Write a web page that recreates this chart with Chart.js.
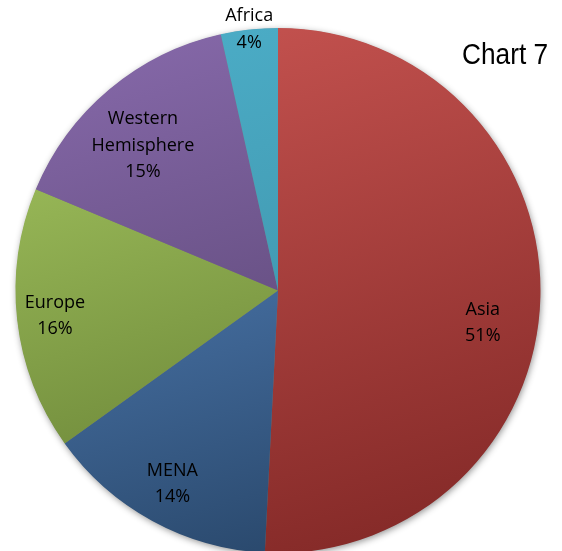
<!DOCTYPE html>
<html lang="en">
<head>
  <meta charset="UTF-8" />
  <title>Chart 7</title>
  <script src="https://cdn.jsdelivr.net/npm/chart.js"></script>
  <style>
    body { margin: 0; background: #fff; overflow: hidden; width: 562px; height: 551px; }
    #wrap { position: absolute; left: 0; top: 0; width: 562px; height: 581px; }
    #title { position: absolute; left: 462px; top: 39px; font: 30px "Liberation Sans", Arial, sans-serif; line-height: 30px; color: #000; transform: scaleX(0.875); transform-origin: left top; white-space: nowrap; }
  </style>
</head>
<body>
  <div id="wrap"><canvas id="pie"></canvas></div>
  <div id="title">Chart 7</div>

  <script>
    const categories = ['Asia', 'MENA', 'Europe', 'Western Hemisphere', 'Africa'];
    const shares = [50.8, 14.3, 16.2, 15.2, 3.5];
    const labelLines = [['Asia'], ['MENA'], ['Europe'], ['Western', 'Hemisphere'], ['Africa']];
    const lightColors = ['#C4524F', '#5A8BC8', '#A3C45F', '#8467A7', '#4BACC6'];
    const darkColors = ['#852A28', '#284669', '#5F782F', '#4F3D66', '#3A8AA0'];

    // shaded fill, light at the top of the pie and dark at the bottom
    function shade(ctx) {
      const chart = ctx.chart;
      const area = chart.chartArea;
      const i = ctx.dataIndex;
      if (!area) return lightColors[i];
      const cx = (area.left + area.right) / 2;
      const cy = (area.top + area.bottom) / 2;
      const r = Math.min(area.width, area.height) / 2;
      const g = chart.ctx.createLinearGradient(cx - r * 0.3, cy - r, cx + r * 0.3, cy + r);
      g.addColorStop(0, lightColors[i]);
      g.addColorStop(1, darkColors[i]);
      return g;
    }

    // soft drop shadow behind the whole pie
    const pieShadow = {
      id: 'pieShadow',
      beforeDatasetsDraw(chart) {
        const arc = chart.getDatasetMeta(0).data[0];
        if (!arc) return;
        const c = chart.ctx;
        c.save();
        c.shadowColor = 'rgba(0,0,0,0.45)';
        c.shadowBlur = 7;
        c.shadowOffsetX = 1;
        c.shadowOffsetY = 2;
        c.fillStyle = '#777';
        c.beginPath();
        c.arc(arc.x, arc.y, arc.outerRadius - 0.5, 0, Math.PI * 2);
        c.fill();
        c.restore();
      }
    };

    // data labels: name lines + rounded percentage
    const sliceLabels = {
      id: 'sliceLabels',
      afterDatasetsDraw(chart, args, opts) {
        const c = chart.ctx;
        const meta = chart.getDatasetMeta(0);
        c.save();
        c.font = opts.font;
        c.fillStyle = '#000';
        c.textAlign = 'center';
        c.textBaseline = 'middle';
        meta.data.forEach((arc, i) => {
          const mid = (arc.startAngle + arc.endAngle) / 2 + opts.turn[i] * Math.PI / 180;
          const rr = arc.outerRadius * opts.radial[i];
          const x = arc.x + Math.cos(mid) * rr;
          const y = arc.y + Math.sin(mid) * rr;
          const lines = labelLines[i].concat([Math.round(shares[i]) + '%']);
          const top = y - (lines.length - 1) * opts.lineHeight / 2;
          lines.forEach((t, k) => c.fillText(t, x, top + k * opts.lineHeight));
        });
        c.restore();
      }
    };

    new Chart(document.getElementById('pie'), {
      type: 'pie',
      data: {
        labels: categories,
        datasets: [{
          data: shares,
          backgroundColor: shade,
          borderWidth: 0
        }]
      },
      options: {
        responsive: true,
        maintainAspectRatio: false,
        animation: false,
        layout: { padding: { left: 15.5, right: 21.5, top: 28, bottom: 28 } },
        plugins: {
          legend: { display: false },
          tooltip: { enabled: false },
          sliceLabels: {
            font: '18px "Open Sans", sans-serif',
            lineHeight: 26.5,
            radial: [0.79, 0.84, 0.855, 0.755, 1.0],
            turn: [7.6, 0, 0, -3, 0]
          }
        }
      },
      plugins: [pieShadow, sliceLabels]
    });
  </script>
</body>
</html>
